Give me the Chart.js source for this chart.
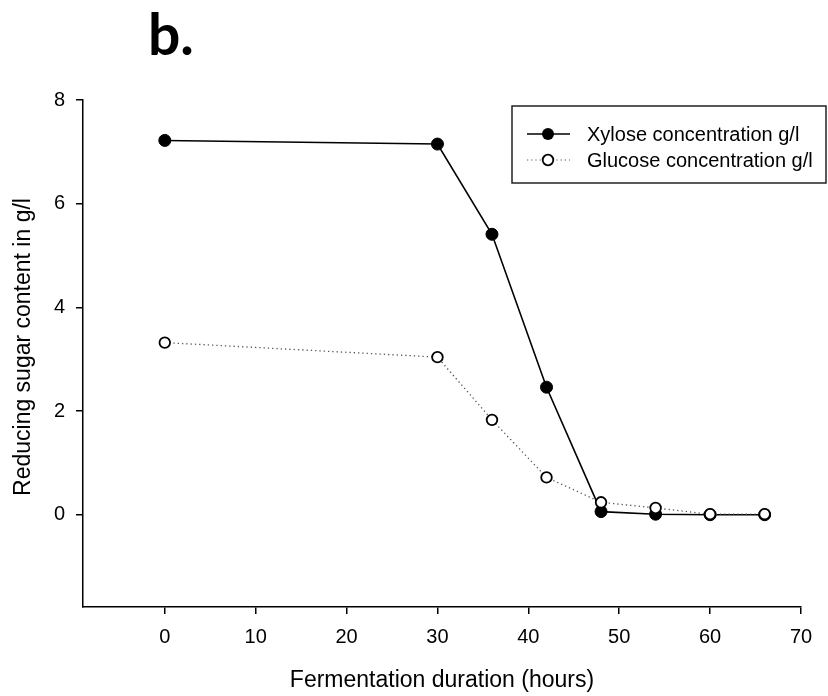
<!DOCTYPE html>
<html>
<head>
<meta charset="utf-8">
<script src="https://cdn.jsdelivr.net/npm/chart.js@4/dist/chart.umd.min.js"></script>
<style>
html,body{margin:0;padding:0;background:#fff;}
#wrap{width:828px;height:696px;position:relative;}
</style>
</head>
<body>
<div id="wrap"><canvas id="c" width="828" height="696"></canvas></div>
<script>
const hours = [0, 30, 36, 42, 48, 54, 60, 66];
const xylose = [7.22, 7.15, 5.41, 2.46, 0.06, 0.01, 0.0, 0.0];
const glucose = [3.32, 3.04, 1.83, 0.72, 0.24, 0.13, 0.01, 0.01];
const xTicks = [0, 10, 20, 30, 40, 50, 60, 70];
const yTicks = [0, 2, 4, 6, 8];
const seriesNames = ['Xylose concentration g/l', 'Glucose concentration g/l'];
const panelLabel = 'b.';
const xTitle = 'Fermentation duration (hours)';
const yTitle = 'Reducing sugar content in g/l';

const toPts = (arr) => hours.map((h, i) => ({x: h, y: arr[i]}));
const FONT = '"Liberation Sans", Arial, sans-serif';

const extras = {
  id: 'extras',
  afterDraw(chart) {
    const ctx = chart.ctx;
    ctx.save();
    // panel label
    ctx.fillStyle = '#000';
    ctx.font = 'bold 57px Lato, "Open Sans", sans-serif';
    ctx.textBaseline = 'alphabetic';
    ctx.textAlign = 'left';
    ctx.fillText(panelLabel, 148, 55);
    // y axis title
    ctx.save();
    ctx.translate(24, 347);
    ctx.rotate(-Math.PI / 2);
    ctx.textAlign = 'center';
    ctx.textBaseline = 'middle';
    ctx.font = '23px ' + FONT;
    ctx.fillText(yTitle, 0, 0);
    ctx.restore();
    // legend
    ctx.strokeStyle = '#222';
    ctx.lineWidth = 1.5;
    ctx.strokeRect(512, 106, 314, 77);
    const rows = [134, 160];
    ctx.font = '20px ' + FONT;
    ctx.textBaseline = 'middle';
    // xylose
    ctx.beginPath();
    ctx.strokeStyle = '#000';
    ctx.lineWidth = 1.5;
    ctx.setLineDash([]);
    ctx.moveTo(527, rows[0]); ctx.lineTo(570, rows[0]); ctx.stroke();
    ctx.beginPath(); ctx.fillStyle = '#000';
    ctx.arc(548, rows[0], 6, 0, Math.PI * 2); ctx.fill();
    ctx.fillText(seriesNames[0], 587, rows[0] + 1);
    // glucose
    ctx.beginPath();
    ctx.strokeStyle = '#555';
    ctx.lineWidth = 1.2;
    ctx.setLineDash([1.2, 3]);
    ctx.moveTo(527, rows[1]); ctx.lineTo(570, rows[1]); ctx.stroke();
    ctx.setLineDash([]);
    ctx.beginPath(); ctx.fillStyle = '#fff'; ctx.strokeStyle = '#000'; ctx.lineWidth = 1.8;
    ctx.arc(548, rows[1], 5.3, 0, Math.PI * 2); ctx.fill(); ctx.stroke();
    ctx.fillStyle = '#000';
    ctx.fillText(seriesNames[1], 587, rows[1] + 1);
    ctx.restore();
  }
};

new Chart(document.getElementById('c'), {
  type: 'line',
  data: {
    datasets: [
      {
        label: seriesNames[0],
        data: toPts(xylose),
        borderColor: '#000',
        borderWidth: 1.6,
        pointRadius: 6,
        pointBackgroundColor: '#000',
        pointBorderColor: '#000',
        pointBorderWidth: 1,
        tension: 0,
        order: 2
      },
      {
        label: seriesNames[1],
        data: toPts(glucose),
        borderColor: '#555',
        borderWidth: 1.3,
        borderDash: [1.3, 3],
        pointRadius: 5.3,
        pointBackgroundColor: '#fff',
        pointBorderColor: '#000',
        pointBorderWidth: 1.8,
        tension: 0,
        order: 1
      }
    ]
  },
  options: {
    responsive: false,
    animation: false,
    layout: {padding: {top: 100, right: 27, left: 0, bottom: 0}},
    plugins: {legend: {display: false}, tooltip: {enabled: false}, title: {display: false}},
    scales: {
      x: {
        type: 'linear',
        min: -9, max: 70,
        afterBuildTicks: (s) => { s.ticks = xTicks.map(v => ({value: v})); },
        afterFit: (s) => { s.height = 89; },
        grid: {display: true, drawOnChartArea: false, drawTicks: true, tickLength: 7, color: '#000', lineWidth: 1.5},
        border: {display: true, color: '#000', width: 1.5},
        ticks: {color: '#000', font: {family: FONT, size: 20}, padding: 11, maxRotation: 0},
        title: {display: true, text: xTitle, color: '#000', font: {family: FONT, size: 23}, padding: {top: 0, bottom: 2}}
      },
      y: {
        type: 'linear',
        min: -1.78, max: 8,
        afterBuildTicks: (s) => { s.ticks = yTicks.map(v => ({value: v})); },
        afterFit: (s) => { s.width = 83; },
        grid: {display: true, drawOnChartArea: false, drawTicks: true, tickLength: 7, color: '#000', lineWidth: 1.5},
        border: {display: true, color: '#000', width: 1.5},
        ticks: {color: '#000', font: {family: FONT, size: 20}, padding: 11},
        title: {display: false, text: yTitle}
      }
    }
  },
  plugins: [extras]
});
</script>
</body>
</html>
